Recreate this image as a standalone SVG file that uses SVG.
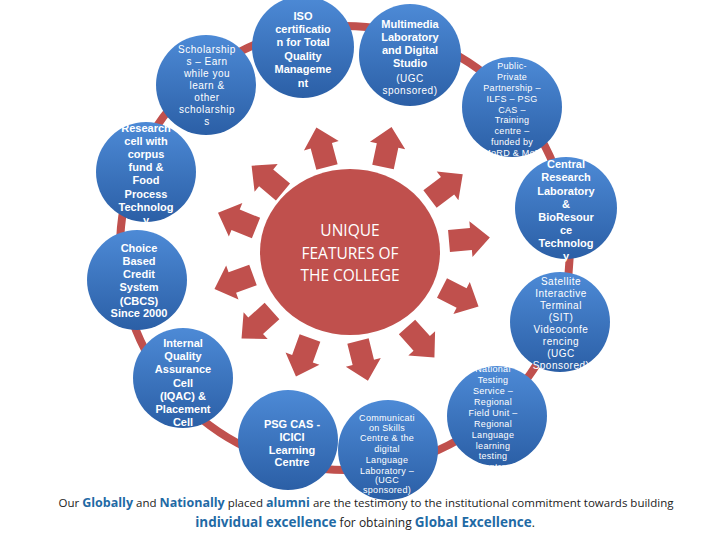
<svg xmlns="http://www.w3.org/2000/svg" xmlns:xlink="http://www.w3.org/1999/xlink" width="720" height="540" viewBox="0 0 720 540">
<defs>
<linearGradient id="blue" x1="0" y1="0" x2="0" y2="1">
<stop offset="0" stop-color="#4d8ad6"/>
<stop offset="1" stop-color="#2b5fa6"/>
</linearGradient>
<path id="arr" d="M-11,0 L-11,-22 L-18,-22 L0,-41 L18,-22 L11,-22 L11,0 Z"/>
<style>
.node{fill:url(#blue);}
.b{font-family:"Liberation Sans",Arial,sans-serif;font-weight:bold;font-size:11px;fill:#fff;text-anchor:middle;}
.r{font-family:"Liberation Sans",Arial,sans-serif;font-size:10px;letter-spacing:0.5px;fill:#fff;text-anchor:middle;}
.s{font-family:"Liberation Sans",Arial,sans-serif;font-size:9px;letter-spacing:0.3px;fill:#fff;text-anchor:middle;}
.red{fill:#C0504D;}
.foot{font-family:"Open Sans","Liberation Sans",sans-serif;font-size:11.5px;fill:#222;}
.hl{font-weight:bold;font-size:12.5px;fill:#1f6aa5;}
.foot2{font-family:"Open Sans","Liberation Sans",sans-serif;font-size:12px;fill:#222;}
.hl2{font-weight:bold;font-size:13.5px;fill:#1f6aa5;}
</style>
</defs>
<rect width="720" height="540" fill="#fff"/>
<g id="connectors">
<ellipse cx="345" cy="248" rx="225" ry="222" fill="none" stroke="#C0504D" stroke-width="8"/>
<g class="red">
<use xlink:href="#arr" transform="translate(327,167) rotate(-15)"/>
<use xlink:href="#arr" transform="translate(383,167) rotate(12)"/>
<use xlink:href="#arr" transform="translate(430,199) rotate(53)"/>
<use xlink:href="#arr" transform="translate(449,241) rotate(85)"/>
<use xlink:href="#arr" transform="translate(442,288) rotate(117)"/>
<use xlink:href="#arr" transform="translate(407,327) rotate(138)"/>
<use xlink:href="#arr" transform="translate(358,341) rotate(166)"/>
<use xlink:href="#arr" transform="translate(310,338) rotate(200)"/>
<use xlink:href="#arr" transform="translate(272,311) rotate(228)"/>
<use xlink:href="#arr" transform="translate(253,275) rotate(250)"/>
<use xlink:href="#arr" transform="translate(256,228) rotate(292)"/>
<use xlink:href="#arr" transform="translate(283,192) rotate(310)"/>
</g>
</g>
<g id="center">
<ellipse cx="350" cy="252" rx="90" ry="83" fill="#C0504D"/>
<text font-family="'Open Sans','Liberation Sans',sans-serif" font-size="15.5" fill="#fff" text-anchor="middle">
<tspan x="350" y="236">UNIQUE</tspan><tspan x="350" y="259">FEATURES OF</tspan><tspan x="350" y="281">THE COLLEGE</tspan>
</text>
</g>
<g id="scholarships">
<circle class="node" cx="206" cy="85" r="50"/>
<text class="r"><tspan x="207" y="53">Scholarship</tspan><tspan x="207" y="65">s – Earn</tspan><tspan x="207" y="77">while you</tspan><tspan x="207" y="89">learn &amp;</tspan><tspan x="207" y="101">other</tspan><tspan x="207" y="113">scholarship</tspan><tspan x="207" y="125">s</tspan></text>
</g>
<g id="iso">
<circle class="node" cx="303" cy="47" r="51"/>
<text class="b"><tspan x="303" y="20">ISO</tspan><tspan x="303" y="33">certificatio</tspan><tspan x="303" y="46">n for Total</tspan><tspan x="303" y="60">Quality</tspan><tspan x="303" y="73">Manageme</tspan><tspan x="303" y="87">nt</tspan></text>
</g>
<g id="multimedia">
<circle class="node" cx="410" cy="55" r="51"/>
<text class="b"><tspan x="410" y="28">Multimedia</tspan><tspan x="410" y="41">Laboratory</tspan><tspan x="410" y="54">and Digital</tspan><tspan x="410" y="67">Studio</tspan></text>
<text class="r"><tspan x="410" y="82">(UGC</tspan><tspan x="410" y="94">sponsored)</tspan></text>
</g>
<g id="ppp">
<circle class="node" cx="512" cy="107" r="50"/>
<text class="s"><tspan x="512" y="69">Public-</tspan><tspan x="512" y="80">Private</tspan><tspan x="512" y="91">Partnership –</tspan><tspan x="512" y="102">ILFS – PSG</tspan><tspan x="512" y="113">CAS –</tspan><tspan x="512" y="123">Training</tspan><tspan x="512" y="134">centre –</tspan><tspan x="512" y="145">funded by</tspan><tspan x="512" y="156">MoRD &amp; MoT</tspan></text>
</g>
<g id="central">
<circle class="node" cx="566" cy="208" r="51"/>
<text class="b"><tspan x="566" y="168">Central</tspan><tspan x="566" y="181">Research</tspan><tspan x="566" y="195">Laboratory</tspan><tspan x="566" y="208">&amp;</tspan><tspan x="566" y="221">BioResour</tspan><tspan x="566" y="234">ce</tspan><tspan x="566" y="247">Technolog</tspan><tspan x="566" y="260">y</tspan></text>
</g>
<g id="satellite">
<circle class="node" cx="560" cy="322" r="50"/>
<text class="r"><tspan x="561" y="285">Satellite</tspan><tspan x="561" y="297">Interactive</tspan><tspan x="561" y="309">Terminal</tspan><tspan x="561" y="321">(SIT)</tspan><tspan x="561" y="333">Videoconfe</tspan><tspan x="561" y="345">rencing</tspan><tspan x="561" y="357">(UGC</tspan><tspan x="561" y="369">Sponsored)</tspan></text>
</g>
<g id="national">
<circle class="node" cx="497" cy="416" r="50"/>
<text class="s"><tspan x="493" y="372">National</tspan><tspan x="493" y="383">Testing</tspan><tspan x="493" y="394">Service –</tspan><tspan x="493" y="405">Regional</tspan><tspan x="493" y="416">Field Unit –</tspan><tspan x="493" y="427">Regional</tspan><tspan x="493" y="438">Language</tspan><tspan x="493" y="449">learning</tspan><tspan x="493" y="459">testing</tspan><tspan x="493" y="470">centre</tspan></text>
</g>
<g id="communication">
<circle class="node" cx="388" cy="450" r="50"/>
<text class="s"><tspan x="387" y="421">Communicati</tspan><tspan x="387" y="431">on Skills</tspan><tspan x="387" y="441">Centre &amp; the</tspan><tspan x="387" y="452">digital</tspan><tspan x="387" y="463">Language</tspan><tspan x="387" y="474">Laboratory –</tspan><tspan x="387" y="483">(UGC</tspan><tspan x="387" y="493">sponsored)</tspan></text>
</g>
<g id="psg">
<circle class="node" cx="288" cy="440" r="50"/>
<text class="b"><tspan x="292" y="428">PSG CAS -</tspan><tspan x="292" y="441">ICICI</tspan><tspan x="292" y="454">Learning</tspan><tspan x="292" y="466">Centre</tspan></text>
</g>
<g id="iqac">
<circle class="node" cx="183" cy="378" r="50"/>
<text class="b"><tspan x="183" y="347">Internal</tspan><tspan x="183" y="360">Quality</tspan><tspan x="183" y="373">Assurance</tspan><tspan x="183" y="387">Cell</tspan><tspan x="183" y="400">(IQAC) &amp;</tspan><tspan x="183" y="413">Placement</tspan><tspan x="183" y="426">Cell</tspan></text>
</g>
<g id="cbcs">
<circle class="node" cx="137" cy="280" r="50"/>
<text class="b"><tspan x="139" y="252">Choice</tspan><tspan x="139" y="265">Based</tspan><tspan x="139" y="278">Credit</tspan><tspan x="139" y="291">System</tspan><tspan x="139" y="305">(CBCS)</tspan><tspan x="139" y="317">Since 2000</tspan></text>
</g>
<g id="research">
<circle class="node" cx="146" cy="172" r="50"/>
<text class="b"><tspan x="146" y="132">Research</tspan><tspan x="146" y="145">cell with</tspan><tspan x="146" y="158">corpus</tspan><tspan x="146" y="171">fund &amp;</tspan><tspan x="146" y="184">Food</tspan><tspan x="146" y="198">Process</tspan><tspan x="146" y="211">Technolog</tspan><tspan x="146" y="224">y</tspan></text>
</g>
<g id="footer">
<text class="foot" x="366" y="507" text-anchor="middle">Our <tspan class="hl">Globally</tspan> and <tspan class="hl">Nationally</tspan> placed <tspan class="hl">alumni</tspan> are the testimony to the institutional commitment towards building</text>
<text class="foot2" x="365" y="527" text-anchor="middle"><tspan class="hl2">individual excellence</tspan> for obtaining <tspan class="hl2">Global Excellence</tspan>.</text>
</g>
</svg>
